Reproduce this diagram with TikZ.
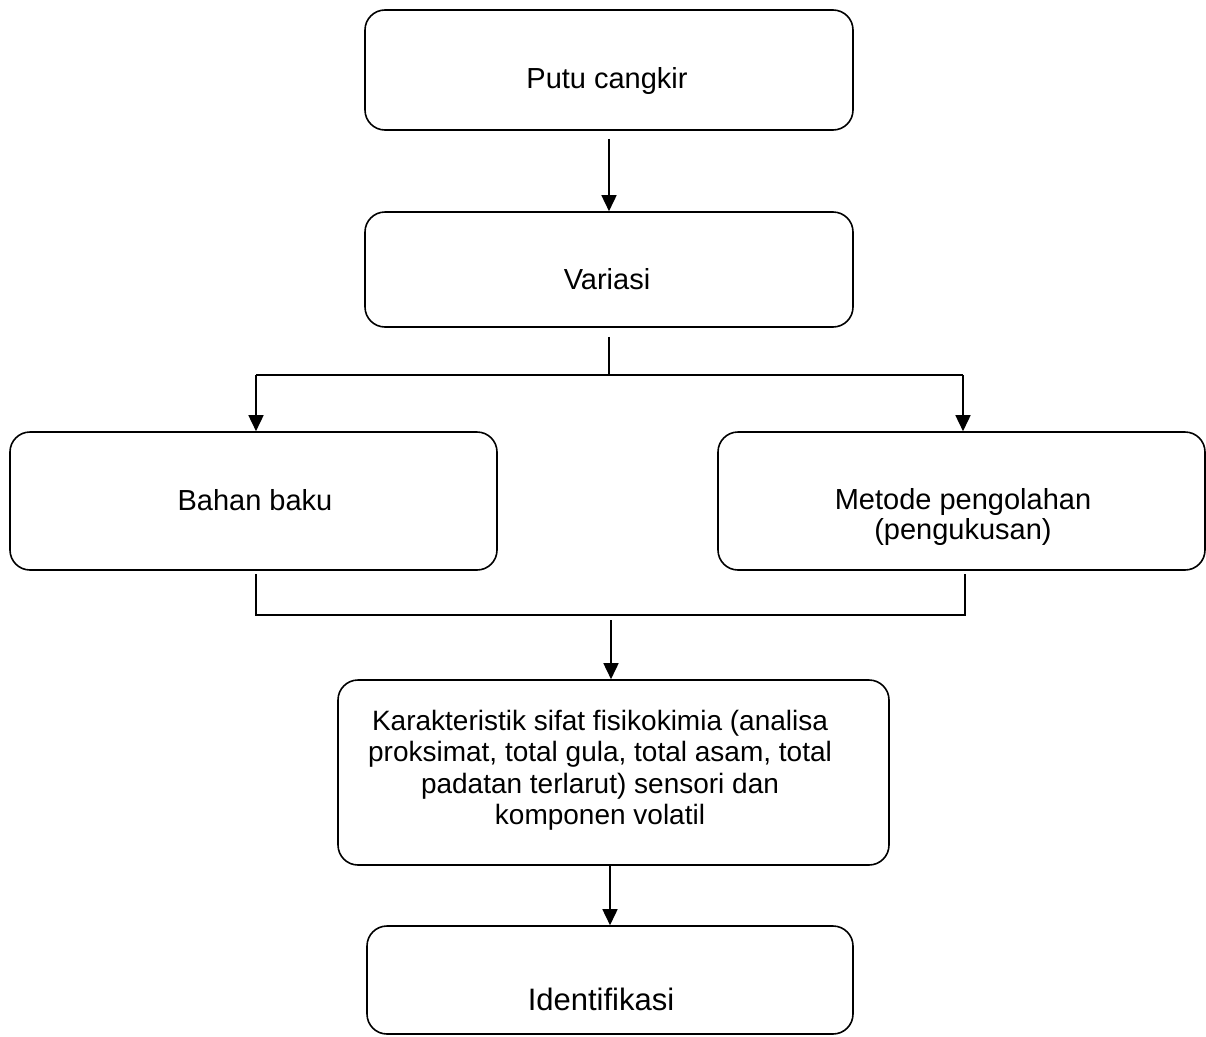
\documentclass[tikz,border=0pt]{standalone}
\usepackage{fontspec}
\setmainfont{Liberation Sans}
\usetikzlibrary{arrows.meta,calc}
\begin{document}
\begin{tikzpicture}[x=1pt,y=-1pt,
  box/.style={draw=black,line width=1.6pt,rounded corners=20pt,inner sep=0pt},
  txt/.style={font=\fontsize{29}{30}\selectfont,align=center,inner sep=0pt},
  conn/.style={line width=1.6pt},
  arr/.style={line width=1.6pt,-{Triangle[width=15pt,length=16pt]}}]
\useasboundingbox (0,0) rectangle (1206,1036);
% boxes
\node[box,minimum width=488pt,minimum height=120pt] (p) at (609,70) {};
\node[box,minimum width=488pt,minimum height=115pt] (v) at (609,269.5) {};
\node[box,minimum width=487pt,minimum height=138pt] (b) at (253.5,501) {};
\node[box,minimum width=487pt,minimum height=138pt] (m) at (961.5,501) {};
\node[box,minimum width=551pt,minimum height=185pt] (k) at (613.5,772.5) {};
\node[box,minimum width=486pt,minimum height=108pt] (i) at (610,980) {};
% texts
\node[txt] (tp) at (607,81) {Putu cangkir};
\node[txt] (tv) at (607,279) {Variasi};
\node[txt] (tb) at (255,500) {Bahan baku};
\node[txt] (tm) at (963,517) {Metode pengolahan\\(pengukusan)};
\node[txt,font=\fontsize{28}{31.5}\selectfont] (tk) at (600,770) {Karakteristik sifat fisikokimia (analisa\\proksimat, total gula, total asam, total\\padatan terlarut) sensori dan\\komponen volatil};
\node[txt,font=\fontsize{31}{36}\selectfont] (ti) at (601,999) {Identifikasi};
% connectors
\draw[arr] ($(p.south)+(0,8)$) -- (v.north);
\coordinate (j1) at (609,375);
\coordinate (jl) at (256,375);
\coordinate (jr) at (963,375);
\draw[conn] ($(v.south)+(0,9)$) -- (j1);
\draw[conn] (jl) -- (jr);
\draw[arr] (jl) -- (jl |- b.north);
\draw[arr] (jr) -- (jr |- m.north);
\coordinate (bl) at (256,615);
\coordinate (br) at (965,615);
\draw[conn] ($(bl |- b.south)+(0,3)$) -- (bl) -- (br) -- ($(br |- m.south)+(0,3)$);
\coordinate (j2) at (611,620);
\draw[arr] (j2) -- (j2 |- k.north);
\draw[arr] (k.south -| 610,0) -- (i.north -| 610,0);
\end{tikzpicture}
\end{document}
